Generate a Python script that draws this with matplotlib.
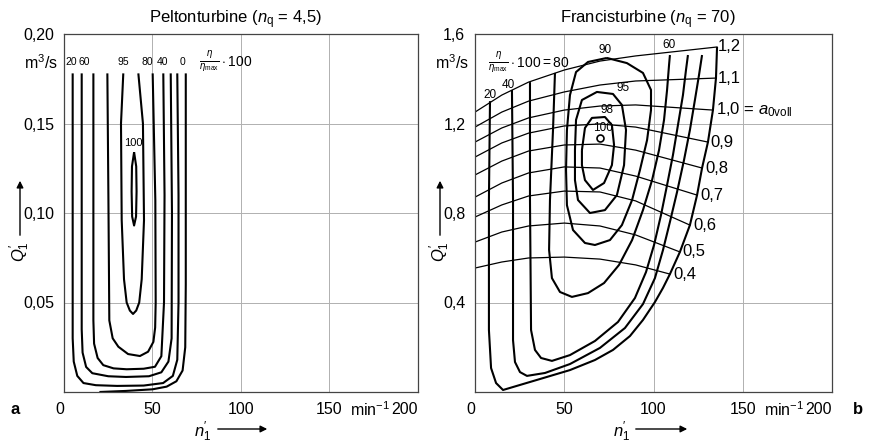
import matplotlib.pyplot as plt

plt.rcParams['font.family'] = ['Liberation Sans', 'DejaVu Sans']
plt.rcParams['mathtext.fontset'] = 'custom'
plt.rcParams['mathtext.rm'] = 'Liberation Sans'
plt.rcParams['mathtext.it'] = 'Liberation Sans:italic'

# ---- a: Pelton turbine, efficiency contours (n1' in min^-1, Q1' in m3/s)
p100_n = [39.6, 38.4, 38.2, 38.5, 39.6, 40.7, 41.0, 40.8, 39.6]
p100_q = [0.134, 0.126, 0.112, 0.098, 0.093, 0.098, 0.112, 0.126, 0.134]
p95_n = [33.5, 32.2, 32.6, 33.9, 35.4, 37.2, 39.0, 40.8, 42.5, 43.9, 45.2, 44.6, 42.0]
p95_q = [0.178, 0.150, 0.096, 0.063, 0.050, 0.0455, 0.0436, 0.0455, 0.050, 0.063, 0.096, 0.150, 0.178]
p90_n = [24.5, 25.1, 25.6, 27.5, 30.7, 36.2, 42.9, 47.5, 50.5, 51.5, 51.8, 51.6, 50.1]
p90_q = [0.178, 0.107, 0.040, 0.030, 0.0253, 0.0212, 0.0201, 0.0225, 0.028, 0.036, 0.050, 0.107, 0.178]
p80_n = [16.6, 16.6, 17.0, 19.0, 22.2, 28.0, 35.4, 45.0, 51.4, 55.0, 56.5, 56.8, 56.1]
p80_q = [0.178, 0.040, 0.027, 0.019, 0.015, 0.0132, 0.0127, 0.013, 0.0141, 0.020, 0.050, 0.110, 0.178]
p60_n = [10.0, 10.0, 10.5, 12.5, 16.0, 25.0, 35.0, 48.0, 55.0, 59.0, 60.8, 61.0, 60.3]
p60_q = [0.178, 0.035, 0.022, 0.014, 0.0105, 0.0088, 0.0084, 0.0088, 0.011, 0.017, 0.030, 0.100, 0.178]
p20_n = [4.9, 4.9, 5.5, 7.5, 11.0, 18.0, 30.0, 45.0, 56.0, 61.5, 64.0, 64.7, 64.7, 64.0]
p20_q = [0.178, 0.030, 0.017, 0.009, 0.005, 0.0038, 0.0034, 0.0036, 0.0050, 0.009, 0.018, 0.050, 0.110, 0.178]
p0_n = [20.0, 35.0, 50.0, 58.0, 63.5, 67.0, 68.5, 68.8, 68.8]
p0_q = [0.0, 0.0006, 0.0015, 0.003, 0.006, 0.012, 0.025, 0.060, 0.178]

pelton_label_txt = ['20', '60', '95', '80', '40', '0']
pelton_label_n = [3.9, 11.3, 33.3, 46.9, 55.9, 67.2]

# ---- b: Francis turbine
# guide vane opening lines a0
a0_labels = ['1,2', '1,1', '1,0 = $a_{\\mathrm{0voll}}$', '0,9', '0,8', '0,7', '0,6', '0,5', '0,4']
a0_n = [
    [0, 15, 30, 50, 70, 90, 135.6],
    [0, 15, 30, 50, 70, 90, 135.0],
    [0, 15, 30, 50, 70, 90, 133.3],
    [0, 15, 30, 50, 70, 90, 130.5],
    [0, 15, 30, 50, 70, 90, 127.2],
    [0, 15, 30, 50, 70, 90, 124.4],
    [0, 15, 30, 50, 70, 90, 120.4],
    [0, 15, 30, 50, 70, 90, 114.8],
    [0, 15, 30, 50, 70, 90, 109.2],
]
a0_q = [
    [1.251, 1.327, 1.385, 1.439, 1.479, 1.502, 1.542],
    [1.184, 1.251, 1.300, 1.341, 1.372, 1.390, 1.403],
    [1.117, 1.180, 1.225, 1.260, 1.278, 1.283, 1.260],
    [1.050, 1.113, 1.157, 1.189, 1.198, 1.184, 1.117],
    [0.970, 1.032, 1.077, 1.104, 1.108, 1.081, 1.001],
    [0.871, 0.934, 0.979, 1.006, 1.001, 0.965, 0.880],
    [0.782, 0.836, 0.876, 0.898, 0.894, 0.854, 0.746],
    [0.670, 0.715, 0.742, 0.755, 0.742, 0.702, 0.626],
    [0.554, 0.581, 0.599, 0.603, 0.594, 0.568, 0.527],
]
a0_label_n = [136.1, 136.1, 135.0, 131.6, 128.8, 126.0, 122.1, 115.9, 110.9]

# efficiency contours
f20_n = [8.4, 7.8, 7.8, 9.0, 11.8, 15.7, 34.7, 53.2, 67.2, 77.3, 86.8, 94.1, 100.8, 105.3,
         109.2, 114.8, 120.4, 124.4, 127.2, 130.5, 133.3, 135.0, 135.6]
f20_q = [1.300, 0.858, 0.277, 0.107, 0.040, 0.009, 0.054, 0.098, 0.143, 0.188, 0.250, 0.322,
         0.402, 0.465, 0.527, 0.626, 0.746, 0.880, 1.001, 1.117, 1.260, 1.403, 1.542]
f40_n = [20.7, 21.3, 21.3, 22.4, 25.2, 29.1, 39.2, 53.2, 70.0, 84.0, 94.1, 100.8, 105.3,
         109.2, 113.2, 117.1, 120.4, 123.2, 125.5, 127.2]
f40_q = [1.350, 0.858, 0.232, 0.134, 0.089, 0.072, 0.085, 0.125, 0.197, 0.286, 0.393, 0.509,
         0.634, 0.760, 0.894, 1.037, 1.171, 1.305, 1.417, 1.506]
f60_n = [30.8, 30.8, 31.4, 33.6, 37.0, 43.1, 53.2, 67.2, 80.1, 89.6, 95.8, 100.3, 104.2,
         107.6, 110.9, 113.7, 116.5, 118.2, 119.3]
f60_q = [1.385, 0.858, 0.277, 0.188, 0.152, 0.139, 0.165, 0.228, 0.313, 0.420, 0.536, 0.657,
         0.791, 0.925, 1.059, 1.193, 1.327, 1.439, 1.506]
f80_n = [44.8, 43.7, 42.0, 41.5, 43.1, 47.6, 54.3, 63.3, 72.3, 80.7, 88.0, 94.1, 99.2, 103.1,
         105.9, 107.6, 108.7, 109.2]
f80_q = [1.426, 1.171, 0.858, 0.635, 0.509, 0.447, 0.425, 0.442, 0.487, 0.568, 0.679, 0.813,
         0.947, 1.081, 1.216, 1.350, 1.461, 1.506]
f90_n = [73.9, 63.3, 56.6, 53.2, 51.5, 51.0, 51.5, 54.9, 61.6, 67.2, 75.6, 82.3, 88.0, 92.4,
         96.4, 98.6, 98.6, 94.1, 85.1, 73.9]
f90_q = [1.493, 1.475, 1.430, 1.327, 1.171, 0.992, 0.835, 0.724, 0.666, 0.657, 0.679, 0.746,
         0.858, 0.992, 1.126, 1.260, 1.350, 1.426, 1.470, 1.493]
f95_n = [56.0, 56.6, 59.9, 68.3, 77.3, 82.3, 84.6, 83.5, 79.5, 72.8, 64.4, 57.7, 56.0, 56.0]
f95_q = [1.081, 1.216, 1.305, 1.341, 1.332, 1.283, 1.171, 1.014, 0.880, 0.813, 0.800, 0.858,
         0.947, 1.081]
f98_n = [59.9, 61.6, 65.5, 72.8, 76.7, 77.9, 76.7, 72.3, 66.1, 61.6, 59.9, 59.9]
f98_q = [1.081, 1.180, 1.225, 1.229, 1.193, 1.104, 1.014, 0.934, 0.903, 0.947, 1.014, 1.081]
opt_n = [70.0]
opt_q = [1.135]

francis_label_txt = ['20', '40', '90', '95', '98', '100', '60']
francis_label_n = [8.4, 18.5, 72.8, 82.9, 73.9, 71.7, 108.7]
francis_label_q = [1.327, 1.372, 1.528, 1.359, 1.260, 1.180, 1.551]

W, H = 870, 446
fig = plt.figure(figsize=(W / 100, H / 100), dpi=100)
ax1 = fig.add_axes([64 / W, 54 / H, 354 / W, 358 / H])
ax2 = fig.add_axes([475 / W, 54 / H, 357 / W, 358 / H])

for ax in (ax1, ax2):
    ax.set_xlim(0, 200)
    ax.set_xticks([0, 50, 100, 150, 200])
    ax.set_xticklabels(['0', '50', '100', '150', '200'])
    ax.tick_params(length=0, labelsize=11.5, pad=7)
    ax.grid(True, color='#b0b0b0', lw=0.7)
    ax.set_axisbelow(True)
    for s in ax.spines.values():
        s.set_color('#444444')
        s.set_linewidth(0.9)
    ax.text(173, -0.05, 'min$^{-1}$', transform=ax.get_xaxis_transform(),
            ha='center', va='center', fontsize=11.5)
    xl = ax.get_xticklabels()
    xl[0].set_horizontalalignment('right')
    xl[-1].set_horizontalalignment('right')

thick = dict(color='black', lw=1.5, solid_capstyle='butt')

# panel a
ax1.set_ylim(0, 0.20)
ax1.set_yticks([0.05, 0.10, 0.15, 0.20])
ax1.set_yticklabels(['0,05', '0,10', '0,15', '0,20'])
for n, q in [(p100_n, p100_q), (p95_n, p95_q), (p90_n, p90_q), (p80_n, p80_q),
             (p60_n, p60_q), (p20_n, p20_q), (p0_n, p0_q)]:
    ax1.plot(n, q, **thick)
for t, n in zip(pelton_label_txt, pelton_label_n):
    ax1.text(n, 0.1845, t, ha='center', va='center', fontsize=7.5)
ax1.text(39.0, 0.139, '100', ha='center', va='center', fontsize=8)
ax1.text(76.5, 0.1845, r'$\frac{\eta}{\eta_{\mathrm{max}}}\cdot 100$', ha='left',
         va='center', fontsize=10)

# panel b
ax2.set_ylim(0, 1.6)
ax2.set_yticks([0.4, 0.8, 1.2, 1.6])
ax2.set_yticklabels(['0,4', '0,8', '1,2', '1,6'])
for n, q in zip(a0_n, a0_q):
    ax2.plot(n, q, color='black', lw=0.9)
for n, q in [(f20_n, f20_q), (f40_n, f40_q), (f60_n, f60_q), (f80_n, f80_q),
             (f90_n, f90_q), (f95_n, f95_q), (f98_n, f98_q)]:
    ax2.plot(n, q, **thick)
ax2.plot(opt_n, opt_q, 'o', ms=5, mfc='white', mec='black', mew=1.2)
for t, n, q in zip(francis_label_txt, francis_label_n, francis_label_q):
    ax2.text(n, q, t, ha='center', va='center', fontsize=8.5)
for t, n, q in zip(a0_labels, a0_label_n, [row[-1] for row in a0_q]):
    ax2.text(n, q, t, ha='left', va='center', fontsize=12)
ax2.text(30.3, 1.470, r'$\frac{\eta}{\eta_{\mathrm{max}}}\cdot 100 = 80$', ha='center',
         va='center', fontsize=10)

# titles, units, axis names
fig.text(235 / W, 1 - 20 / H, 'Peltonturbine ($n_\\mathrm{q}$ = 4,5)', ha='center',
         va='center', fontsize=12)
fig.text(648 / W, 1 - 20 / H, 'Francisturbine ($n_\\mathrm{q}$ = 70)', ha='center',
         va='center', fontsize=12)
fig.text(58 / W, 1 - 63 / H, 'm$^3$/s', ha='right', va='center', fontsize=11.5)
fig.text(469 / W, 1 - 63 / H, 'm$^3$/s', ha='right', va='center', fontsize=11.5)
fig.text(15 / W, 1 - 410 / H, 'a', ha='center', va='center', fontsize=12, weight='bold')
fig.text(858 / W, 1 - 410 / H, 'b', ha='center', va='center', fontsize=12, weight='bold')

arrow = dict(arrowstyle='-|>', color='black', lw=1.0, mutation_scale=10)
for x0 in (20, 440):
    fig.text(x0 / W, 1 - 252 / H, r"$Q_1^{\prime}$", rotation=90, ha='center',
             va='center', fontsize=12)
    ax1.annotate('', xy=(x0 / W, 1 - 178 / H), xytext=(x0 / W, 1 - 238 / H),
                 xycoords='figure fraction', arrowprops=arrow, annotation_clip=False)
for xt, xa0, xa1 in ((203, 215, 270), (622, 633, 690)):
    fig.text(xt / W, 1 - 432 / H, r"$n_1^{\prime}$", ha='center', va='center', fontsize=12)
    ax1.annotate('', xy=(xa1 / W, 1 - 429 / H), xytext=(xa0 / W, 1 - 429 / H),
                 xycoords='figure fraction', arrowprops=arrow, annotation_clip=False)

fig.savefig('out.png', dpi=100)
